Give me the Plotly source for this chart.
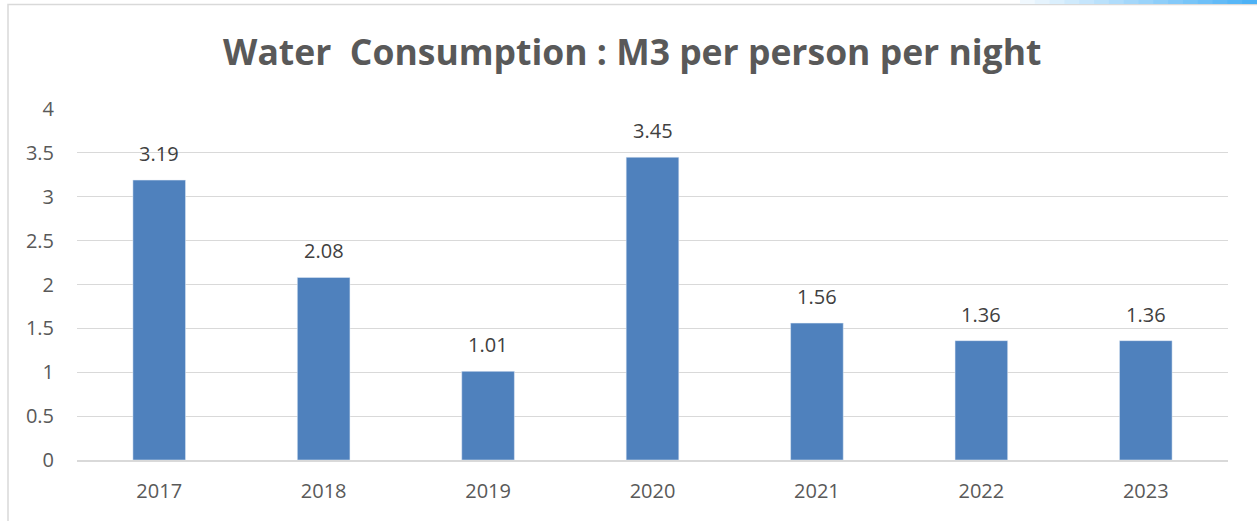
import plotly.graph_objects as go

# ---------------------------------------------------------------------------
# データ
# ---------------------------------------------------------------------------
years = [2017, 2018, 2019, 2020, 2021, 2022, 2023]
consumption = [3.19, 2.08, 1.01, 3.45, 1.56, 1.36, 1.36]
labels = [f"{v:.2f}" for v in consumption]

BAR_COLOR = "#4f81bd"
TEXT_COLOR = "#595959"
GRID_COLOR = "#d9d9d9"
FONT = "Open Sans, Liberation Sans, sans-serif"

W, H = 1257, 521
L, R, T, B = 77, 29, 109, 61
pw, ph = W - L - R, H - T - B


def px_x(x):
    return (x - L) / pw


def px_y(y):
    return (H - B - y) / ph


fig = go.Figure()
fig.add_trace(go.Bar(
    x=years, y=consumption,
    marker_color=BAR_COLOR,
    width=0.32,
    hovertemplate="%{x}: %{y}<extra></extra>",
))

# データラベル
annotations = [
    dict(x=x, y=v, xref="x", yref="y", text=t, showarrow=False,
         yanchor="bottom", yshift=11,
         font=dict(family=FONT, size=20, color="#404040"))
    for x, v, t in zip(years, consumption, labels)
]

# 枠線 (Excel のグラフエリア風)
shapes = [dict(
    type="rect", xref="paper", yref="paper",
    x0=px_x(8), x1=px_x(W + 20), y0=px_y(H + 20), y1=px_y(4.5),
    line=dict(color="#d9d9d9", width=1.5), fillcolor="rgba(0,0,0,0)", layer="below",
)]
# 右上の青いグラデーション線
start, n = 1020, 16
c0, c1 = (240, 248, 254), (77, 178, 246)
seg = (W - start) / n
for i in range(n):
    f = i / (n - 1)
    rgb = tuple(round(a + (b - a) * f) for a, b in zip(c0, c1))
    shapes.append(dict(
        type="rect", xref="paper", yref="paper",
        x0=px_x(start + i * seg), x1=px_x(start + (i + 1) * seg + 1),
        y0=px_y(4), y1=px_y(0),
        line=dict(width=0), fillcolor="rgb(%d,%d,%d)" % rgb,
    ))

fig.update_layout(
    width=W, height=H,
    margin=dict(l=L, r=R, t=T, b=B),
    paper_bgcolor="white", plot_bgcolor="white",
    title=dict(
        text="<b>Water  Consumption : M3 per person per night</b>",
        x=0.503, xanchor="center", y=0.9, yanchor="middle",
        font=dict(family=FONT, size=35.5, color=TEXT_COLOR),
    ),
    font=dict(family=FONT, size=20, color=TEXT_COLOR),
    showlegend=False,
    shapes=shapes,
    annotations=annotations,
    xaxis=dict(
        type="linear", range=[years[0] - 0.5, years[-1] + 0.5],
        tickmode="array", tickvals=years, ticktext=[str(y) for y in years],
        showgrid=False, showline=True, linecolor=GRID_COLOR, linewidth=1.5,
        zeroline=False, ticks="", tickfont=dict(size=20, color=TEXT_COLOR),
        ticklabelstandoff=12,
    ),
    yaxis=dict(
        range=[0, 4], dtick=0.5, showgrid=True, gridcolor=GRID_COLOR, gridwidth=1.2,
        zeroline=False, ticks="", tickfont=dict(size=20, color=TEXT_COLOR),
        ticklabelstandoff=22,
    ),
)

# ページ余白を消してグラフを左上に合わせる
fig.write_html(
    "out.html",
    config={"displayModeBar": False},
    post_script="document.body.style.margin='0';",
)
